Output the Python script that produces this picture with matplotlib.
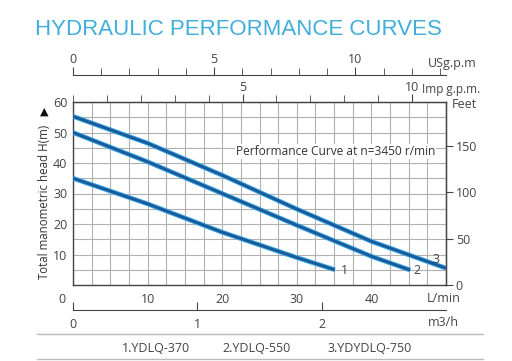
import matplotlib
matplotlib.use("Agg")
import matplotlib.pyplot as plt
import matplotlib.transforms as mtransforms
import numpy as np

# ---- data ----
q1 = [0, 10, 20, 30, 35.1]
h1 = [35, 26.6, 17.3, 9.0, 5.0]
q2 = [0, 10, 20, 30, 40, 45.2]
h2 = [50, 40.4, 30.0, 19.6, 9.4, 4.9]
q3 = [0, 10, 20, 30, 40, 50]
h3 = [55.3, 46.5, 36.0, 24.9, 14.3, 5.5]
curve_labels = ["1", "2", "3"]
models = ["1.YDLQ-370", "2.YDLQ-550", "3.YDYDLQ-750"]
lmin_ticks = [0, 10, 20, 30, 40]
head_ticks = [10, 20, 30, 40, 50, 60]
feet_ticks = [0, 50, 100, 150]
usgpm_ticks = [0, 5, 10]
impgpm_ticks = [5, 10]
m3h_ticks = [0, 1, 2]

W, H = 512, 361
fig = plt.figure(figsize=(W / 100, H / 100), dpi=100)
fig.patch.set_facecolor("white")
FONT = "Open Sans"
TXT = "#444444"

def fx(px):
    return px / W

def fy(py):
    return 1 - py / H

x0, x1 = 73, 446
y0, y1 = 102, 285
ax = fig.add_axes([fx(x0), fy(y1), fx(x1) - fx(x0), fy(y0) - fy(y1)])
ax.set_xlim(0, 50)
ax.set_ylim(0, 60)
ax.set_xticks(lmin_ticks)
ax.set_xticks(np.arange(0, 50.01, 2.5), minor=True)
ax.set_yticks(head_ticks)
ax.set_yticks(np.arange(0, 60.01, 5), minor=True)
ax.grid(which="both", color="#b0b0b0", lw=0.8)
ax.set_axisbelow(True)
ax.tick_params(which="both", length=0, labelsize=9, colors=TXT, pad=4)
ax.tick_params(axis="x", pad=6)
for lab in ax.get_xticklabels() + ax.get_yticklabels():
    lab.set_fontfamily(FONT)
    lab.set_color(TXT)
xl = ax.get_xticklabels()
xl[0].set_transform(xl[0].get_transform() + mtransforms.ScaledTranslation(-11 / 100, 0, fig.dpi_scale_trans))
for s in ["left", "bottom", "right", "top"]:
    ax.spines[s].set_color("#444444")
    ax.spines[s].set_linewidth(1.0)

for q, h in [(q1, h1), (q2, h2), (q3, h3)]:
    ax.plot(q, h, color="#35a6e6", lw=3.4, solid_capstyle="butt", solid_joinstyle="round", zorder=3)
    ax.plot(q, h, color="#1a5a98", lw=2.0, solid_capstyle="butt", solid_joinstyle="round", zorder=4)

ax.text(q1[-1] + 0.8, h1[-1] - 0.1, curve_labels[0], fontsize=9, color=TXT, family=FONT, va="center", ha="left")
ax.text(q2[-1] + 0.4, h2[-1] - 0.3, curve_labels[1], fontsize=9, color=TXT, family=FONT, va="center", ha="left")
ax.text(q3[-1] - 0.9, h3[-1] + 2.9, curve_labels[2], fontsize=9, color=TXT, family=FONT, va="center", ha="right")

ax.text(48.6, 43.8, "Performance Curve at n=3450 r/min", fontsize=8.6, color="#333333", family=FONT,
        ha="right", va="center", bbox=dict(facecolor="white", edgecolor="none", pad=0.5), zorder=5)

fig.text(fx(45), fy(202), "Total manometric head H(m)", fontsize=8.3, color="#333333", family=FONT,
         rotation=90, ha="center", va="center")

# Imperial gpm on top spine
L_PER_IMP = 4.546
sec_imp = ax.secondary_xaxis("top", functions=(lambda x: x / L_PER_IMP, lambda x: x * L_PER_IMP))
sec_imp.set_xticks(impgpm_ticks)
sec_imp.set_xticks(np.arange(0, 11, 1), minor=True)
sec_imp.tick_params(which="major", length=6, direction="out", labelsize=9, colors="#444444", pad=0)
sec_imp.tick_params(which="minor", length=5, direction="out", colors="#444444")
sec_imp.spines["top"].set_color("#444444")
for lab in sec_imp.get_xticklabels():
    lab.set_fontfamily(FONT)
    lab.set_color(TXT)
fig.text(fx(422), fy(90), "Imp g.p.m.", fontsize=8.5, color=TXT, family=FONT, ha="left", va="center")

# Feet on right
M_TO_FT = 3.2808
sec_ft = ax.secondary_yaxis("right", functions=(lambda y: y * M_TO_FT, lambda y: y / M_TO_FT))
sec_ft.set_yticks(feet_ticks)
sec_ft.tick_params(length=5, direction="out", labelsize=9, colors="#444444", pad=2)
for lab in sec_ft.get_yticklabels():
    lab.set_fontfamily(FONT)
    lab.set_color(TXT)
fig.text(fx(452), fy(104), "Feet", fontsize=9, color=TXT, family=FONT, ha="left", va="center")

# US gpm axis
L_PER_US = 3.785
ax_us = fig.add_axes([fx(x0), fy(75.5), fx(x1) - fx(x0), 0.0001])
ax_us.set_xlim(0, 50 / L_PER_US)
ax_us.set_ylim(0, 1)
for s in ["left", "right", "bottom"]:
    ax_us.spines[s].set_visible(False)
ax_us.spines["top"].set_color("#444444")
ax_us.yaxis.set_visible(False)
ax_us.xaxis.set_ticks_position("top")
ax_us.set_xticks(usgpm_ticks)
ax_us.set_xticks(np.arange(0, 14, 1), minor=True)
ax_us.tick_params(which="major", length=6, direction="out", labelsize=9, colors="#444444", pad=1)
ax_us.tick_params(which="minor", length=5, direction="out", colors="#444444")
for lab in ax_us.get_xticklabels():
    lab.set_fontfamily(FONT)
    lab.set_color(TXT)
fig.text(fx(428), fy(63), "USg.p.m", fontsize=9, color=TXT, family=FONT, ha="left", va="center")
ax_us.patch.set_visible(False)

# m3/h axis
L_PER_M3H = 1000 / 60
ax_m3 = fig.add_axes([fx(x0), fy(310), fx(x1) - fx(x0), 0.0001])
ax_m3.set_xlim(0, 50 / L_PER_M3H)
ax_m3.set_ylim(0, 1)
for s in ["left", "right", "top"]:
    ax_m3.spines[s].set_visible(False)
ax_m3.spines["bottom"].set_color("#444444")
ax_m3.yaxis.set_visible(False)
ax_m3.set_xticks(m3h_ticks)
ax_m3.tick_params(length=6, direction="in", labelsize=9, colors="#444444", pad=6)
for lab in ax_m3.get_xticklabels():
    lab.set_fontfamily(FONT)
    lab.set_color(TXT)
ax_m3.patch.set_visible(False)
fig.text(fx(428), fy(322), "m3/h", fontsize=9, color=TXT, family=FONT, ha="left", va="center")
fig.text(fx(427), fy(298), "L/min", fontsize=9, color=TXT, family=FONT, ha="left", va="center")

# y-axis arrow marker
fig.text(fx(44), fy(112), "\u25B2", fontsize=8, color="#111111", family="DejaVu Sans", ha="center", va="center")

# Title
fig.text(fx(35), fy(35), "HYDRAULIC PERFORMANCE CURVES", fontsize=16, color="#40aedc",
         family="Liberation Sans", ha="left", va="baseline")

# Legend separator lines and models
fig.add_artist(plt.Line2D([fx(37), fx(483)], [fy(334), fy(334)], color="#bbbbbb", lw=1))
fig.add_artist(plt.Line2D([fx(37), fx(483)], [fy(359), fy(359)], color="#bbbbbb", lw=1))
for xc, m in zip([156, 257, 370], models):
    fig.text(fx(xc), fy(348), m, fontsize=9, color=TXT, family=FONT, ha="center", va="center")

fig.savefig("out.png", dpi=100, facecolor="white")
